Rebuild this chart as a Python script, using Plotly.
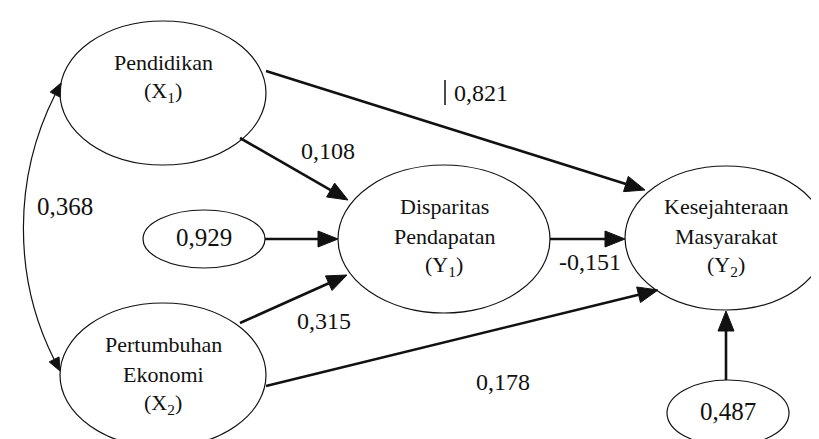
import numpy as np
import plotly.graph_objects as go

# ---- data ----
node_names = ["Pendidikan", "Pertumbuhan Ekonomi", "Disparitas Pendapatan", "Kesejahteraan Masyarakat"]
node_labels = [["Pendidikan", "(X<sub>1</sub>)"],
               ["Pertumbuhan", "Ekonomi", "(X<sub>2</sub>)"],
               ["Disparitas", "Pendapatan", "(Y<sub>1</sub>)"],
               ["Kesejahteraan", "Masyarakat", "(Y<sub>2</sub>)"]]
path_from = ["Pendidikan", "Pendidikan", "Pertumbuhan Ekonomi", "Pertumbuhan Ekonomi", "Disparitas Pendapatan"]
path_to = ["Kesejahteraan Masyarakat", "Disparitas Pendapatan", "Disparitas Pendapatan",
           "Kesejahteraan Masyarakat", "Kesejahteraan Masyarakat"]
path_coef = ["0,821", "0,108", "0,315", "0,178", "-0,151"]
residual_to = ["Disparitas Pendapatan", "Kesejahteraan Masyarakat"]
residual_val = ["0,929", "0,487"]
correlation_val = "0,368"

# ---- layout geometry (pixels, y downward) ----
W, H = 819, 439
ellipse_geom = {  # cx, cy, rx, ry, text center y
    "Pendidikan": (155, 85, 103, 72, 69),
    "Pertumbuhan Ekonomi": (155, 367, 103, 72, 366),
    "Disparitas Pendapatan": (436, 231, 106, 74, 228),
    "Kesejahteraan Masyarakat": (718, 230, 101, 72, 228),
}
residual_geom = {"Disparitas Pendapatan": (196, 231, 61, 29),
                 "Kesejahteraan Masyarakat": (720, 405, 61, 33)}
edge_geom = {
    ("Pendidikan", "Kesejahteraan Masyarakat"): ((258, 63), (637, 182), (473, 85)),
    ("Pendidikan", "Disparitas Pendapatan"): ((232, 130), (340, 192), (320, 143)),
    ("Pertumbuhan Ekonomi", "Disparitas Pendapatan"): ((232, 315), (339, 267), (316, 313)),
    ("Pertumbuhan Ekonomi", "Kesejahteraan Masyarakat"): ((258, 378), (650, 282), (495, 374)),
    ("Disparitas Pendapatan", "Kesejahteraan Masyarakat"): ((542, 231), (617, 231), (582, 254)),
}
residual_edge = {"Disparitas Pendapatan": ((257, 231), (330, 231)),
                 "Kesejahteraan Masyarakat": ((718, 372), (718, 303))}

FONT = "Liberation Serif"
INK = "#111111"

shapes = []
annotations = []


def tri(tip, direction, length, width):
    d = np.array(direction, float)
    d /= np.linalg.norm(d)
    n = np.array([-d[1], d[0]])
    tip = np.array(tip, float)
    base = tip - d * length
    p1 = base + n * width / 2
    p2 = base - n * width / 2
    path = f"M {tip[0]:.2f},{tip[1]:.2f} L {p1[0]:.2f},{p1[1]:.2f} L {p2[0]:.2f},{p2[1]:.2f} Z"
    return path, base


def arrow(start, tip, lw=2.6, L=20, Wd=16):
    d = np.array(tip, float) - np.array(start, float)
    path, base = tri(tip, d, L, Wd)
    shapes.append(dict(type="line", x0=start[0], y0=start[1], x1=base[0], y1=base[1],
                       line=dict(color=INK, width=lw), layer="above"))
    shapes.append(dict(type="path", path=path, fillcolor=INK, line=dict(color=INK, width=1), layer="above"))


def text(x, y, s, size):
    annotations.append(dict(x=x, y=y, text=s, showarrow=False, xanchor="center", yanchor="middle",
                            font=dict(family=FONT, size=size, color=INK)))


# main ellipses
for name, lines in zip(node_names, node_labels):
    cx, cy, rx, ry, ty = ellipse_geom[name]
    shapes.append(dict(type="circle", x0=cx - rx, x1=cx + rx, y0=cy - ry, y1=cy + ry,
                       line=dict(color=INK, width=1.2), fillcolor="white", layer="below"))
    n = len(lines)
    for i, ln in enumerate(lines):
        text(cx, ty + (i - (n - 1) / 2) * 30, ln, 22)

# residual ellipses
for tgt, val in zip(residual_to, residual_val):
    cx, cy, rx, ry = residual_geom[tgt]
    shapes.append(dict(type="circle", x0=cx - rx, x1=cx + rx, y0=cy - ry, y1=cy + ry,
                       line=dict(color=INK, width=1.2), fillcolor="white", layer="below"))
    text(cx, cy - 2, val, 25)
    s, t = residual_edge[tgt]
    arrow(s, t)

# structural paths
for f, t, c in zip(path_from, path_to, path_coef):
    s, tip, lab = edge_geom[(f, t)]
    arrow(s, tip)
    text(lab[0], lab[1], c, 24)

# cursor mark beside 0,821
shapes.append(dict(type="line", x0=437, x1=437, y0=72, y1=97, line=dict(color=INK, width=1.5)))

# correlation curve (double headed)
P0, P1, P2, P3 = (53, 75), (5, 170), (5, 270), (52, 363)
hs, b0 = tri(P0, (P0[0] - P1[0], P0[1] - P1[1]), 13, 11)
he, b3 = tri(P3, (P3[0] - P2[0], P3[1] - P2[1]), 13, 11)
shapes.append(dict(type="path",
                   path=f"M {b0[0]:.2f},{b0[1]:.2f} C {P1[0]},{P1[1]} {P2[0]},{P2[1]} {b3[0]:.2f},{b3[1]:.2f}",
                   line=dict(color=INK, width=1.2)))
shapes.append(dict(type="path", path=hs, fillcolor=INK, line=dict(color=INK, width=1)))
shapes.append(dict(type="path", path=he, fillcolor=INK, line=dict(color=INK, width=1)))
text(57, 198, correlation_val, 25)

fig = go.Figure()
fig.add_trace(go.Scatter(x=[0, W], y=[0, H], mode="markers", marker=dict(opacity=0), hoverinfo="skip",
                         showlegend=False))
fig.update_layout(width=W, height=H, margin=dict(l=0, r=0, t=0, b=0),
                  paper_bgcolor="white", plot_bgcolor="white",
                  xaxis=dict(range=[0, W], visible=False, fixedrange=True),
                  yaxis=dict(range=[H, 0], visible=False, fixedrange=True),
                  shapes=shapes, annotations=annotations, showlegend=False)
fig.write_html("out.html")
